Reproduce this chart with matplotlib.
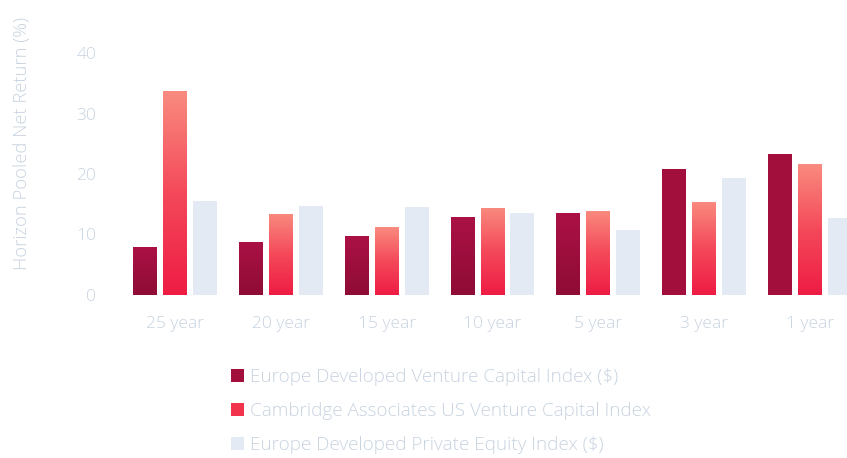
import numpy as np
import matplotlib
matplotlib.use('Agg')
import matplotlib.pyplot as plt
from matplotlib.colors import LinearSegmentedColormap

plt.rcParams['font.family'] = ['Open Sans', 'DejaVu Sans']

# data
horizons = ['25 year', '20 year', '15 year', '10 year', '5 year', '3 year', '1 year']
europe_vc = [7.9, 8.8, 9.7, 12.9, 13.5, 20.8, 23.3]
us_vc = [33.7, 13.4, 11.2, 14.4, 13.9, 15.4, 21.6]
europe_pe = [15.5, 14.7, 14.5, 13.5, 10.7, 19.3, 12.7]
series_names = ['Europe Developed Venture Capital Index ($)',
                'Cambridge Associates US Venture Capital Index',
                'Europe Developed Private Equity Index ($)']

text_col = '#c8d3e0'

fig = plt.figure(figsize=(8.47, 4.58), dpi=100)
ax = fig.add_axes([120/847, 1 - 295/458, 1 - 120/847, 242/458])

x = np.arange(len(horizons))
w = 0.226
off = 0.283

b1 = ax.bar(x - off, europe_vc, w, color='#a20f3d', zorder=2)
b2 = ax.bar(x, us_vc, w, color='#f2334c', zorder=2)
b3 = ax.bar(x + off, europe_pe, w, color='#e3eaf4', zorder=2)

# vertical gradient on the red series (salmon at top, red at bottom)
cmap = LinearSegmentedColormap.from_list('rg', ['#ee1c44', '#f4495a', '#f98b7f'])
grad = np.linspace(0, 1, 256).reshape(-1, 1)
for bar in b2:
    bx, by = bar.get_x(), bar.get_y()
    bw, bh = bar.get_width(), bar.get_height()
    im = ax.imshow(grad, cmap=cmap, origin='lower', aspect='auto',
                   extent=[bx, bx + bw, by, by + bh], zorder=3)
    im.set_clip_path(bar)

# slight shading on the first series for the longer horizons
cmap_d = LinearSegmentedColormap.from_list('dg', ['#8e0c35', '#ab1145'])
for bar in list(b1)[:5]:
    bx, by = bar.get_x(), bar.get_y()
    bw, bh = bar.get_width(), bar.get_height()
    im = ax.imshow(grad, cmap=cmap_d, origin='lower', aspect='auto',
                   extent=[bx, bx + bw, by, by + bh], zorder=3)
    im.set_clip_path(bar)

ax.set_xlim(-0.52, 6.35)
ax.set_ylim(0, 40)
ax.set_yticks([0, 10, 20, 30, 40])
ax.set_xticks(x)
ax.set_xticklabels(horizons)
ax.tick_params(length=0, labelsize=12.5, labelcolor=text_col)
ax.tick_params(axis='y', pad=17)
ax.tick_params(axis='x', pad=15)
for lbl in ax.get_xticklabels() + ax.get_yticklabels():
    lbl.set_fontweight('light')
for s in ax.spines.values():
    s.set_visible(False)
ax.set_facecolor('none')

fig.text(22/847, 1 - 143/458, 'Horizon Pooled Net Return (%)', rotation=90,
         ha='center', va='center', fontsize=13.2, color=text_col,
         fontweight='light')

leg = fig.legend([b1, b2, b3], series_names, loc='upper left',
                 bbox_to_anchor=(214/847, 1 - 351/458), frameon=False,
                 prop={'size': 13.6, 'weight': 'light'}, labelcolor=text_col,
                 handlelength=0.7, handleheight=0.7, handletextpad=0.3,
                 labelspacing=0.86)

fig.savefig('out.png', dpi=100)
